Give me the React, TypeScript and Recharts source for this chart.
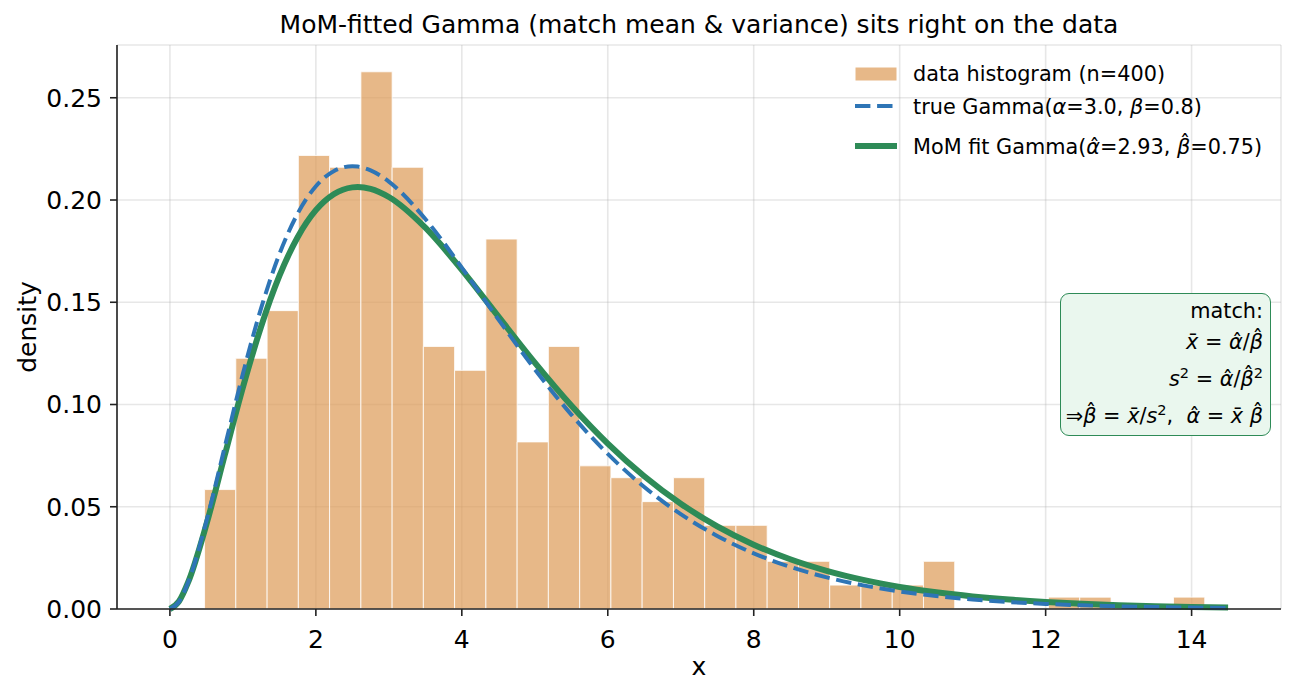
import React from 'react';
import { ComposedChart, Line, XAxis, YAxis, CartesianGrid, ReferenceArea } from 'recharts';

// Histogram bin edges (33 edges -> 32 bins) and normalised densities
const binEdges = [
  0.475, 0.903, 1.332, 1.76, 2.188, 2.617, 3.045, 3.473, 3.901, 4.33, 4.758,
  5.186, 5.615, 6.043, 6.471, 6.9, 7.328, 7.756, 8.184, 8.613, 9.041, 9.469,
  9.898, 10.326, 10.754, 11.182, 11.611, 12.039, 12.467, 12.896, 13.324, 13.752, 14.18,
];
const binDensity = [
  0.0584, 0.1226, 0.1459, 0.2218, 0.216, 0.2627, 0.216, 0.1284, 0.1167, 0.1809,
  0.0817, 0.1284, 0.07, 0.0642, 0.0525, 0.0642, 0.0409, 0.0409, 0.0233, 0.0233,
  0.0117, 0.0117, 0.0117, 0.0233, 0, 0, 0, 0.0058, 0.0058, 0, 0, 0.0058,
];

// Density curves sampled on a common x grid
const curveX = [
  0, 0.125, 0.25, 0.5, 0.75, 1, 1.25, 1.5, 1.75, 2, 2.25, 2.5, 2.5733, 2.75, 3, 3.5, 4, 4.5, 5,
  5.5, 6, 6.5, 7, 7.5, 8, 8.5, 9, 9.5, 10, 10.5, 11, 11.5, 12, 12.5, 13, 13.5, 14, 14.5,
];
const trueGammaPdf = [
  0, 0.003619, 0.0131, 0.0429, 0.079029, 0.115028, 0.147152, 0.173488, 0.193332, 0.206743,
  0.214227, 0.216536, 0.216339, 0.214515, 0.209014, 0.1907, 0.166961, 0.141648, 0.117222, 0.095073,
  0.075845, 0.059668, 0.046386, 0.035695, 0.027224, 0.020601, 0.015481, 0.011562, 0.008588,
  0.006347, 0.004669, 0.003421, 0.002497, 0.001816, 0.001317, 0.000952, 0.000686, 0.000493,
];
const momFitPdf = [
  0, 0.003774, 0.013096, 0.04137, 0.075017, 0.108345, 0.138173, 0.16286, 0.181798, 0.195021,
  0.202945, 0.206186, 0.20636, 0.205455, 0.201473, 0.186451, 0.165817, 0.143051, 0.120487, 0.099534,
  0.080917, 0.064905, 0.051467, 0.04041, 0.031458, 0.024305, 0.018653, 0.014229, 0.010798,
  0.008154, 0.00613, 0.004591, 0.003425, 0.002547, 0.001888, 0.001396, 0.001029, 0.000757,
];

const xTicks = [0, 2, 4, 6, 8, 10, 12, 14];
const yTicks = [0, 0.05, 0.1, 0.15, 0.2, 0.25];

const curveRows = curveX.map((x, i) => ({ x, truePdf: trueGammaPdf[i], fitPdf: momFitPdf[i] }));
const bins = binDensity
  .map((d, i) => ({ x1: binEdges[i], x2: binEdges[i + 1], d }))
  .filter((b) => b.d > 0);

const FONT = '"DejaVu Sans", sans-serif';
const BAR_FILL = '#dd9a55';
const BAR_OPACITY = 0.7;
const BLUE = '#2e75b6';
const GREEN = '#2e8b57';
const AXIS = '#222222';

const Hat = ({ ch, lift }: { ch: string; lift: string }) => (
  <span style={{ position: 'relative', display: 'inline-block' }}>
    {ch}
    <span
      style={{
        position: 'absolute',
        left: '0.12em',
        right: 0,
        top: lift,
        textAlign: 'center',
        fontStyle: 'normal',
      }}
    >
      ˆ
    </span>
  </span>
);

const BarX = () => (
  <span style={{ position: 'relative', display: 'inline-block' }}>
    x
    <span
      style={{ position: 'absolute', left: '0.08em', right: 0, top: '-0.02em', textAlign: 'center', fontStyle: 'normal' }}
    >
      ¯
    </span>
  </span>
);

const I = ({ children }: { children: React.ReactNode }) => <span style={{ fontStyle: 'italic' }}>{children}</span>;

const aHat = <I><Hat ch="α" lift="-0.02em" /></I>;
const bHat = <I><Hat ch="β" lift="-0.2em" /></I>;
const xBar = <I><BarX /></I>;
const sq = <sup style={{ fontSize: '0.7em', lineHeight: 0 }}>2</sup>;

export default function App() {
  const textLine = (top: number, content: React.ReactNode) => (
    <div style={{ position: 'absolute', right: 7, top, lineHeight: '22px', whiteSpace: 'nowrap' }}>{content}</div>
  );
  return (
    <div style={{ position: 'absolute', left: 0, top: 0, width: 1296, height: 695, background: '#fff', fontFamily: FONT }}>
      <ComposedChart
        width={1296}
        height={695}
        data={curveRows}
        margin={{ top: 45, right: 15, bottom: 26, left: 17 }}
      >
        <CartesianGrid stroke="#b0b0b0" strokeOpacity={0.3} strokeWidth={1.6} />
        <XAxis
          type="number"
          dataKey="x"
          domain={[-0.725, 15.225]}
          ticks={xTicks}
          height={60}
          tickSize={7}
          tickMargin={14}
          axisLine={{ stroke: AXIS, strokeWidth: 1.6 }}
          tickLine={{ stroke: AXIS, strokeWidth: 1.6 }}
          tick={{ fill: '#000', fontSize: 25, fontFamily: FONT }}
        />
        <YAxis
          type="number"
          domain={[0, 0.2758]}
          ticks={yTicks}
          width={100}
          tickSize={7}
          tickMargin={8}
          tickFormatter={(v: number) => v.toFixed(2)}
          axisLine={{ stroke: AXIS, strokeWidth: 1.6 }}
          tickLine={{ stroke: AXIS, strokeWidth: 1.6 }}
          tick={{ fill: '#000', fontSize: 25, fontFamily: FONT }}
        />
        {bins.map((b, i) => (
          <ReferenceArea
            key={i}
            x1={b.x1}
            x2={b.x2}
            y1={0}
            y2={b.d}
            fill={BAR_FILL}
            fillOpacity={BAR_OPACITY}
            stroke="#ffffff"
            strokeOpacity={0.8}
            strokeWidth={1}
            ifOverflow="visible"
          />
        ))}
        <Line
          type="monotone"
          dataKey="fitPdf"
          stroke={GREEN}
          strokeWidth={6}
          dot={false}
          activeDot={false}
          isAnimationActive={false}
        />
        <Line
          type="monotone"
          dataKey="truePdf"
          stroke={BLUE}
          strokeWidth={4}
          strokeDasharray="15.4 6.7"
          dot={false}
          activeDot={false}
          isAnimationActive={false}
        />
      </ComposedChart>

      {/* title and axis labels */}
      <div style={{ position: 'absolute', left: 117, width: 1164, top: 10, textAlign: 'center', fontSize: 25, lineHeight: '30px' }}>
        MoM-fitted Gamma (match mean &amp; variance) sits right on the data
      </div>
      <div style={{ position: 'absolute', left: 117, width: 1164, top: 652, textAlign: 'center', fontSize: 25, lineHeight: '30px' }}>
        x
      </div>
      <div
        style={{
          position: 'absolute',
          left: 28,
          top: 327,
          fontSize: 25,
          lineHeight: '30px',
          whiteSpace: 'nowrap',
          transform: 'translate(-50%, -50%) rotate(-90deg)',
        }}
      >
        density
      </div>

      {/* legend */}
      <svg style={{ position: 'absolute', left: 0, top: 0 }} width={1296} height={200}>
        <rect x={855} y={67} width={42} height={14} fill={BAR_FILL} fillOpacity={BAR_OPACITY} stroke="#fff" strokeWidth={1} />
        <line x1={855} y1={106} x2={897} y2={106} stroke={BLUE} strokeWidth={4} strokeDasharray="15.4 6.7" />
        <line x1={855} y1={146} x2={897} y2={146} stroke={GREEN} strokeWidth={6} />
      </svg>
      <div style={{ position: 'absolute', left: 913, top: 61, fontSize: 20.8, lineHeight: '26px', whiteSpace: 'nowrap' }}>
        data histogram (n=400)
      </div>
      <div style={{ position: 'absolute', left: 913, top: 94, fontSize: 20.8, lineHeight: '26px', whiteSpace: 'nowrap' }}>
        true Gamma(<I>α</I>=3.0, <I>β</I>=0.8)
      </div>
      <div style={{ position: 'absolute', left: 913, top: 134, fontSize: 20.8, lineHeight: '26px', whiteSpace: 'nowrap' }}>
        MoM fit Gamma({aHat}=2.93, {bHat}=0.75)
      </div>

      {/* method-of-moments note */}
      <div
        style={{
          position: 'absolute',
          left: 1060,
          top: 293,
          width: 209,
          height: 141,
          border: `1.6px solid ${GREEN}`,
          borderRadius: 9,
          background: '#eaf7ee',
          fontSize: 20.8,
        }}
      >
        {textLine(6, <>match:</>)}
        {textLine(37, <>{xBar} = {aHat}/{bHat}</>)}
        {textLine(74, <><I>s</I>{sq} = {aHat}/{bHat}{sq}</>)}
        {textLine(111, <>⇒{bHat} = {xBar}/<I>s</I>{sq},&nbsp; {aHat} = {xBar} {bHat}</>)}
      </div>
    </div>
  );
}
